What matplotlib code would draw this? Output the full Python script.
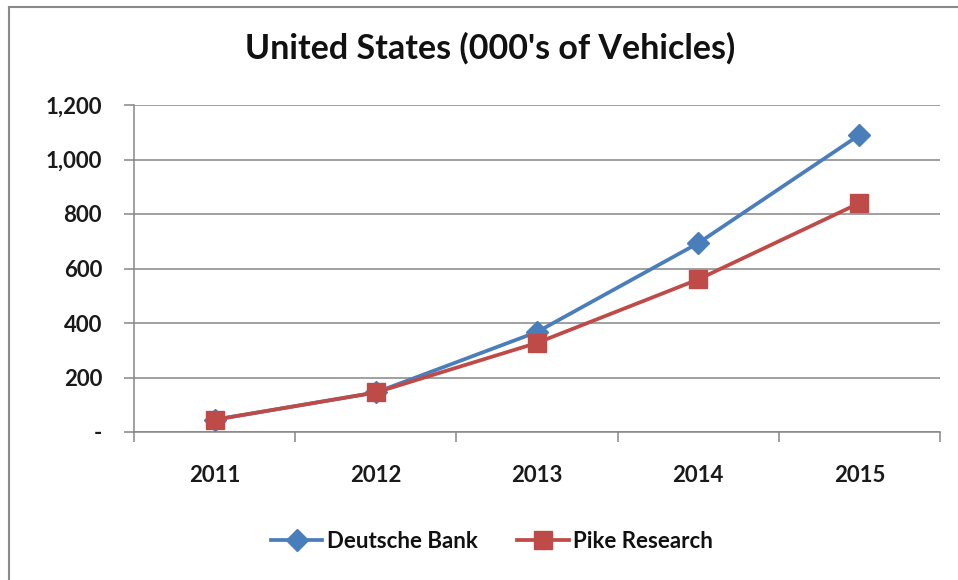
import matplotlib
matplotlib.use('Agg')
import matplotlib.pyplot as plt
from matplotlib.lines import Line2D
from matplotlib.ticker import FuncFormatter

plt.rcParams['font.family'] = ['Lato', 'DejaVu Sans']

years = ['2011', '2012', '2013', '2014', '2015']
deutsche_bank = [45, 145, 367, 693, 1090]
pike_research = [45, 145, 327, 560, 840]
y_ticks = [0, 200, 400, 600, 800, 1000, 1200]

BLUE = '#4A7EBB'
RED = '#BE4B48'
GRID = '#868686'


def fmt_y(v, pos):
    if v == 0:
        return '-'
    return f'{int(v):,}'


fig = plt.figure(figsize=(9.58, 5.8), dpi=100)
ax = fig.add_axes([134 / 958, 148 / 580, 806 / 958, 327 / 580])

x = range(len(years))
ax.plot(x, deutsche_bank, color=BLUE, lw=2.7, marker='D', ms=11,
        mec=BLUE, mfc=BLUE, label='Deutsche Bank', zorder=3)
ax.plot(x, pike_research, color=RED, lw=2.7, marker='s', ms=13,
        mec=RED, mfc=RED, label='Pike Research', zorder=4)

ax.set_xlim(-0.5, len(years) - 0.5)
ax.set_ylim(0, 1200)
ax.set_yticks(y_ticks)
ax.yaxis.set_major_formatter(FuncFormatter(fmt_y))
ax.set_xticks(list(x))
ax.set_xticklabels(years)
ax.set_xticks([i - 0.5 for i in range(len(years) + 1)], minor=True)

ax.grid(axis='y', color=GRID, lw=1.1)
ax.set_axisbelow(True)
for side in ['top', 'right']:
    ax.spines[side].set_visible(False)
for side in ['left', 'bottom']:
    ax.spines[side].set_color(GRID)
    ax.spines[side].set_linewidth(1.1)

ax.tick_params(axis='y', length=7, color=GRID, width=1.1, labelsize=16, pad=16)
ax.tick_params(axis='x', which='major', length=0, labelsize=16, pad=24)
ax.tick_params(axis='x', which='minor', length=7, color=GRID, width=1.1)
for lab in ax.get_xticklabels() + ax.get_yticklabels():
    lab.set_fontweight('bold')
    lab.set_color('#1a1a1a')

fig.text(490 / 958, 1 - 48 / 580, "United States (000's of Vehicles)",
         ha='center', va='center', fontsize=24.5, fontweight='bold',
         color='#111111')

handles = [
    Line2D([], [], color=BLUE, lw=2.7, marker='D', ms=11, mfc=BLUE, mec=BLUE),
    Line2D([], [], color=RED, lw=2.7, marker='s', ms=13, mfc=RED, mec=RED),
]
leg = fig.legend(handles, ['Deutsche Bank', 'Pike Research'], loc='center',
                 bbox_to_anchor=(492 / 958, 1 - 541 / 580), ncol=2,
                 frameon=False, fontsize=16, handlelength=2.3,
                 handletextpad=0.2, columnspacing=1.8)
for t in leg.get_texts():
    t.set_fontweight('bold')
    t.set_color('#111111')

# outer chart frame
fig.add_artist(Line2D([9 / 958, 1], [1 - 7 / 580, 1 - 7 / 580],
                      transform=fig.transFigure, color='#8a8a8a', lw=1.5))
fig.add_artist(Line2D([9 / 958, 9 / 958], [0, 1 - 7 / 580],
                      transform=fig.transFigure, color='#8a8a8a', lw=1.5))

fig.savefig('out.png', dpi=100)
